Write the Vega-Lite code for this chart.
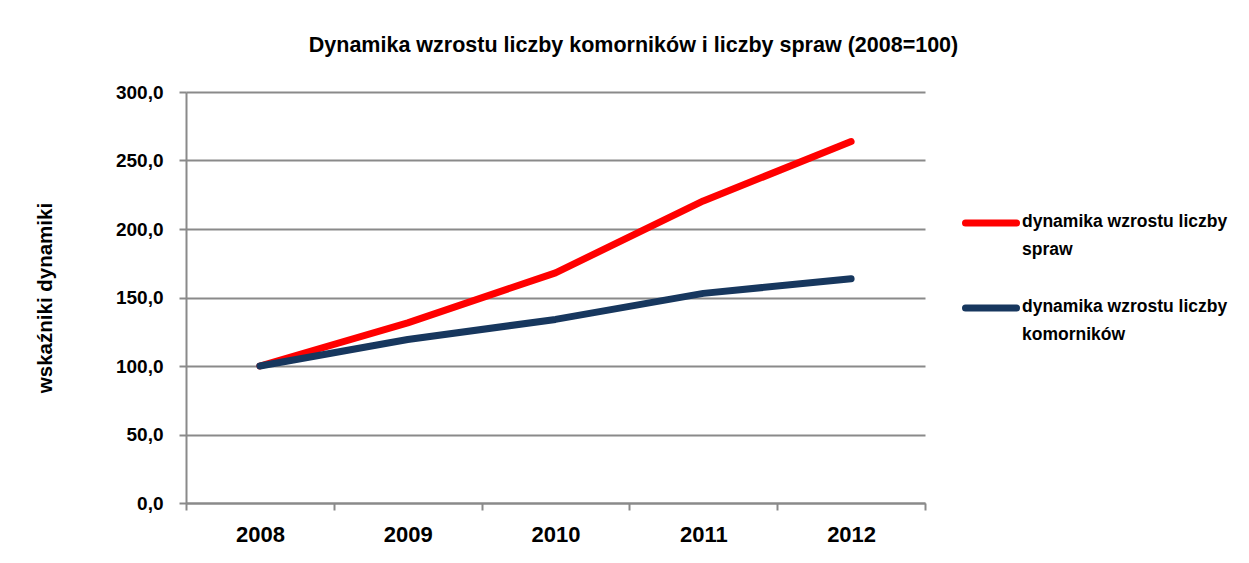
{
  "$schema": "https://vega.github.io/schema/vega-lite/v6.json",
  "width": 739,
  "height": 411,
  "autosize": {"type": "none"},
  "padding": {"left": 186, "top": 92, "right": 324, "bottom": 60},
  "background": "white",
  "title": {
    "text": "Dynamika wzrostu liczby komorników i liczby spraw (2008=100)",
    "anchor": "middle",
    "frame": "group",
    "dx": 78,
    "offset": 27,
    "font": "Liberation Sans",
    "fontSize": 21.5,
    "fontWeight": "bold",
    "color": "black"
  },
  "config": {
    "view": {"stroke": null},
    "font": "Liberation Sans"
  },
  "data": {
    "values": [
      {"rok": "2008", "seria": "dynamika wzrostu liczby spraw", "wartosc": 100},
      {"rok": "2009", "seria": "dynamika wzrostu liczby spraw", "wartosc": 131.5},
      {"rok": "2010", "seria": "dynamika wzrostu liczby spraw", "wartosc": 168},
      {"rok": "2011", "seria": "dynamika wzrostu liczby spraw", "wartosc": 220.5},
      {"rok": "2012", "seria": "dynamika wzrostu liczby spraw", "wartosc": 263.8},
      {"rok": "2008", "seria": "dynamika wzrostu liczby komorników", "wartosc": 100},
      {"rok": "2009", "seria": "dynamika wzrostu liczby komorników", "wartosc": 119.3},
      {"rok": "2010", "seria": "dynamika wzrostu liczby komorników", "wartosc": 134},
      {"rok": "2011", "seria": "dynamika wzrostu liczby komorników", "wartosc": 153},
      {"rok": "2012", "seria": "dynamika wzrostu liczby komorników", "wartosc": 163.7}
    ]
  },
  "mark": {"type": "line", "strokeWidth": 7, "strokeCap": "round", "strokeJoin": "round"},
  "encoding": {
    "x": {
      "field": "rok",
      "type": "ordinal",
      "scale": {"type": "band", "paddingInner": 0, "paddingOuter": 0},
      "axis": {
        "title": null,
        "labelAngle": 0,
        "tickBand": "extent",
        "grid": false,
        "domainColor": "#8a8a8a",
        "domainWidth": 2,
        "tickColor": "#8a8a8a",
        "tickWidth": 2,
        "tickSize": 7,
        "labelFont": "Liberation Sans",
        "labelFontSize": 22,
        "labelFontWeight": "bold",
        "labelColor": "black",
        "labelPadding": 14
      }
    },
    "y": {
      "field": "wartosc",
      "type": "quantitative",
      "scale": {"domain": [0, 300], "nice": false},
      "axis": {
        "title": "wskaźniki dynamiki",
        "values": [0, 50, 100, 150, 200, 250, 300],
        "labelExpr": "replace(format(datum.value, '.1f'), '.', ',')",
        "grid": true,
        "gridColor": "#8a8a8a",
        "gridWidth": 2,
        "domainColor": "#8a8a8a",
        "domainWidth": 2,
        "tickColor": "#8a8a8a",
        "tickWidth": 2,
        "tickSize": 7,
        "labelFont": "Liberation Sans",
        "labelFontSize": 19,
        "labelFontWeight": "bold",
        "labelColor": "black",
        "labelPadding": 16,
        "titleFont": "Liberation Sans",
        "titleFontSize": 20.5,
        "titleFontWeight": "bold",
        "titleColor": "black",
        "titlePadding": 60
      }
    },
    "color": {
      "field": "seria",
      "type": "nominal",
      "scale": {
        "domain": ["dynamika wzrostu liczby spraw", "dynamika wzrostu liczby komorników"],
        "range": ["#ff0000", "#17375e"]
      },
      "legend": {
        "title": null,
        "orient": "none",
        "legendX": 776,
        "legendY": 102,
        "symbolType": "stroke",
        "symbolSize": 2601,
        "symbolStrokeWidth": 7,
        "labelExpr": "[slice(datum.label, 0, 23), slice(datum.label, 24)]",
        "labelFont": "Liberation Sans",
        "labelFontSize": 17.5,
        "labelFontWeight": "bold",
        "labelColor": "black",
        "labelLimit": 400,
        "labelOffset": 2,
        "labelBaseline": "top",
        "rowPadding": 20,
        "encode": {
          "symbols": {"update": {"strokeCap": {"value": "round"}}},
          "labels": {"update": {"dy": {"value": -10}, "lineHeight": {"value": 28}}}
        }
      }
    }
  }
}
